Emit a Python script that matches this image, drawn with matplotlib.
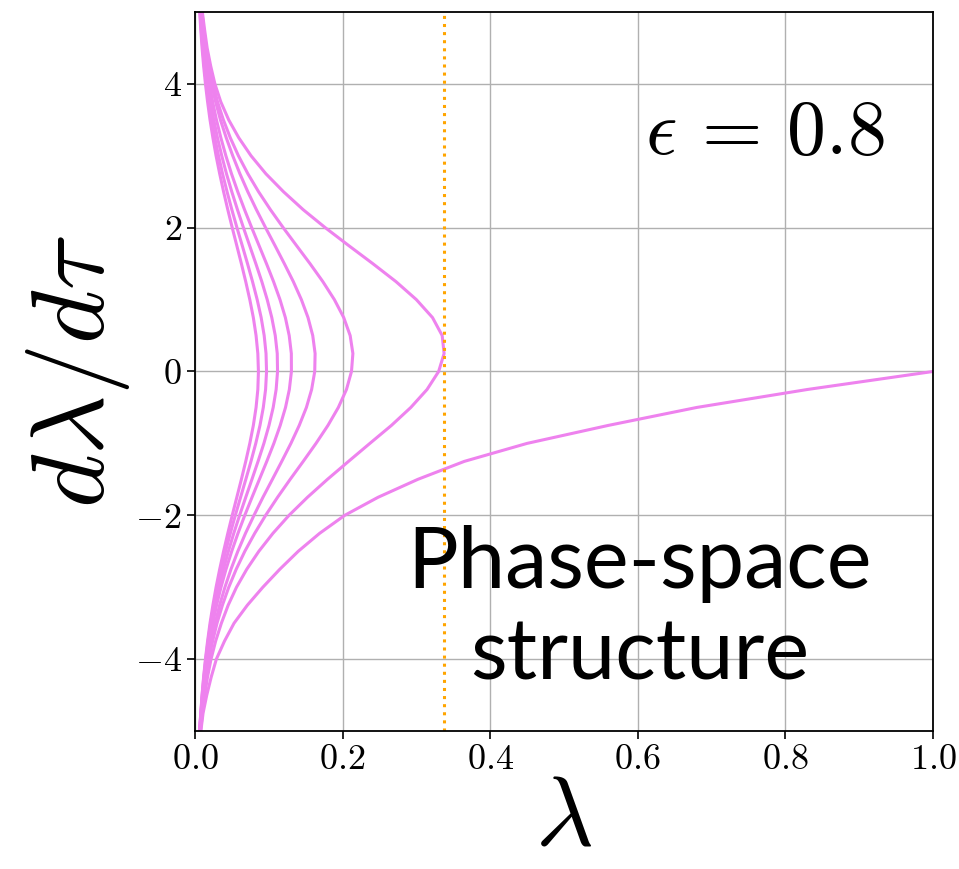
import matplotlib
matplotlib.use("Agg")
import matplotlib.pyplot as plt

plt.rcParams["font.family"] = "serif"
plt.rcParams["font.serif"] = ["cmr10"]
plt.rcParams["mathtext.fontset"] = "cm"
plt.rcParams["axes.formatter.use_mathtext"] = True

# d(lambda)/d(tau) levels shared by every bounded orbit
dldt = [5, 4.75, 4.5, 4.25, 4, 3.75, 3.5, 3.25, 3, 2.75, 2.5, 2.25, 2, 1.75, 1.5, 1.25,
        1, 0.75, 0.5, 0.25, 0, -0.25, -0.5, -0.75, -1, -1.25, -1.5, -1.75, -2, -2.25,
        -2.5, -2.75, -3, -3.25, -3.5, -3.75, -4, -4.25, -4.5, -4.75, -5]

# lambda along each bounded orbit, one value per level above
orbit_1 = [.0064, .0079, .0096, .0117, .0142, .0171, .0204, .0243, .0286, .0335, .0388,
           .0445, .0505, .0567, .0629, .0688, .0743, .0791, .0828, .0852, .0860, .0852,
           .0828, .0791, .0743, .0688, .0629, .0567, .0505, .0445, .0388, .0335, .0286,
           .0243, .0204, .0171, .0142, .0117, .0096, .0079, .0060]
orbit_2 = [.0068, .0085, .0104, .0127, .0155, .0188, .0226, .0269, .0319, .0374, .0435,
           .0500, .0569, .0641, .0712, .0780, .0843, .0897, .0938, .0963, .0970, .0957,
           .0926, .0881, .0824, .0759, .0689, .0618, .0547, .0479, .0415, .0356, .0302,
           .0255, .0213, .0177, .0146, .0120, .0097, .0080, .0062]
orbit_3 = [.0075, .0093, .0115, .0142, .0173, .0211, .0255, .0305, .0363, .0427, .0499,
           .0576, .0657, .0741, .0825, .0906, .0979, .1041, .1088, .1115, .1119, .1100,
           .1060, .1003, .0934, .0855, .0772, .0688, .0605, .0526, .0453, .0386, .0325,
           .0272, .0226, .0186, .0152, .0124, .0101, .0081, .0064]
orbit_4 = [.0083, .0103, .0129, .0159, .0196, .0240, .0291, .0351, .0419, .0495, .0580,
           .0672, .0769, .0869, .0969, .1065, .1152, .1225, .1277, .1306, .1307, .1279,
           .1227, .1155, .1069, .0973, .0873, .0773, .0675, .0583, .0498, .0421, .0353,
           .0293, .0242, .0198, .0161, .0130, .0104, .0083, .0066]
orbit_5 = [.0090, .0113, .0140, .0178, .0222, .0280, .0345, .0424, .0512, .0609, .0716,
           .0833, .0957, .1085, .1211, .1333, .1442, .1532, .1596, .1628, .1623, .1581,
           .1510, .1413, .1300, .1176, .1049, .0921, .0800, .0685, .0581, .0488, .0406,
           .0334, .0274, .0222, .0179, .0143, .0115, .0091, .0069]
orbit_6 = [.0095, .0121, .0152, .0194, .0245, .0306, .0385, .0479, .0589, .0717, .0862,
           .1023, .1196, .1377, .1559, .1733, .1889, .2016, .2103, .2140, .2121, .2053,
           .1943, .1802, .1640, .1467, .1290, .1119, .0958, .0810, .0676, .0559, .0458,
           .0372, .0299, .0239, .0190, .0150, .0118, .0094, .0072]
orbit_7 = [.0100, .0131, .0165, .0213, .0270, .0350, .0457, .0594, .0760, .0961, .1200,
           .1467, .1766, .2085, .2410, .2724, .3000, .3219, .3350, .3376, .3302, .3145,
           .2925, .2662, .2370, .2081, .1795, .1524, .1275, .1057, .0866, .0702, .0563,
           .0450, .0358, .0280, .0218, .0170, .0132, .0102, .0076]
orbits = [orbit_1, orbit_2, orbit_3, orbit_4, orbit_5, orbit_6, orbit_7]

# open orbit that runs into lambda = 1
sep_dldt = [-5, -4.75, -4.5, -4.25, -4, -3.75, -3.5, -3.25, -3, -2.75, -2.5, -2.25,
            -2, -1.75, -1.5, -1.25, -1, -0.75, -0.5, -0.25, 0]
sep_lam = [.008, .011, .016, .022, .029, .040, .053, .071, .092, .115, .140, .169,
           .203, .248, .302, .365, .450, .560, .680, .830, 1.0]

lam_turn = 0.337
eps = 0.8

fig = plt.figure(figsize=(9.59, 8.69), dpi=100)
ax = fig.add_axes([0.2033, 0.1588, 0.7695, 0.8274])

for lam in orbits:
    ax.plot(lam, dldt, color="violet", lw=2.2)
ax.plot(sep_lam, sep_dldt, color="violet", lw=2.2)
ax.axvline(lam_turn, color="orange", ls=":", lw=2.2)

ax.set_xlim(0, 1)
ax.set_ylim(-5, 5)
ax.set_xticks([0.0, 0.2, 0.4, 0.6, 0.8, 1.0])
ax.set_yticks([-4, -2, 0, 2, 4])
ax.grid(True, color="#b0b0b0", lw=1)
ax.tick_params(labelsize=26, length=6, width=1.2)
for spine in ax.spines.values():
    spine.set_linewidth(1.3)

ax.set_xlabel(r"$\lambda$", fontsize=72, labelpad=0)
ax.set_ylabel(r"$d\lambda/d\tau$", fontsize=74, labelpad=2)

ax.text(0.772, 3.29, r"$\epsilon\,=\,%s$" % eps, fontsize=56, ha="center", va="center")
ax.text(0.603, -3.31, "Phase-space\nstructure", fontsize=61, family="Lato",
        ha="center", va="center", linespacing=1.22)

fig.savefig("out.png", dpi=100)
